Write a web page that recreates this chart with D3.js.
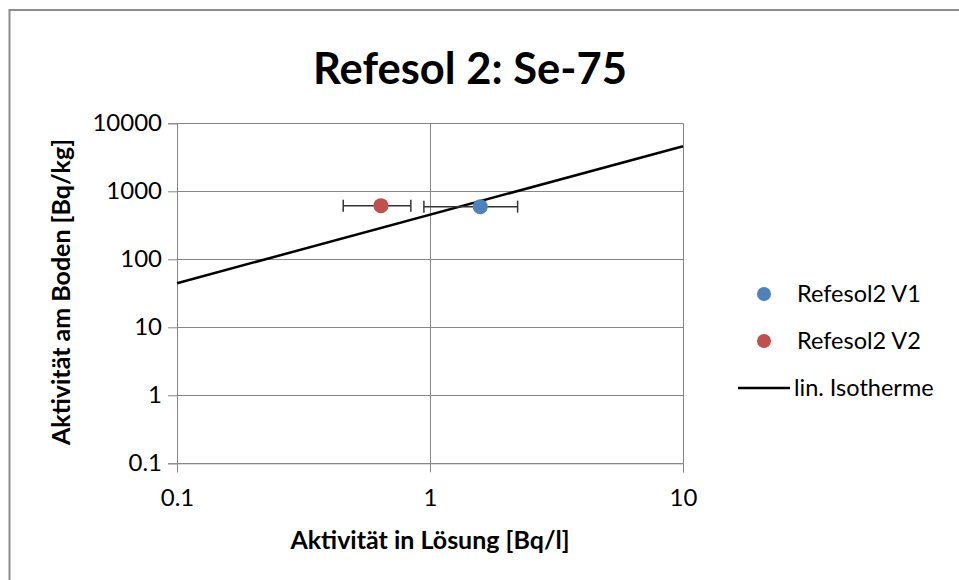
<!DOCTYPE html>
<html>
<head>
<meta charset="utf-8">
<script src="https://cdn.jsdelivr.net/npm/d3@7/dist/d3.min.js"></script>
<style>
  html, body { margin: 0; padding: 0; background: #fff; }
  svg { display: block; }
  text { font-family: Lato, "Open Sans", sans-serif; fill: #000; }
</style>
</head>
<body>
<svg id="chart" width="959" height="580"></svg>
<script>
// ---- data ----
const seriesNames = ["Refesol2 V1", "Refesol2 V2", "lin. Isotherme"];
const seriesColors = ["#4F81BD", "#C0504D", "#000000"];
// points: x (Bq/l), y (Bq/kg), x error low/high
const v1 = { x: 1.58, y: 595, xLow: 0.946, xHigh: 2.22 };
const v2 = { x: 0.64, y: 615, xLow: 0.454, xHigh: 0.84 };
const isothermeX = [0.1, 10];
const isothermeY = [44.5, 4600];
const xTicks = [0.1, 1, 10];
const yTicks = [0.1, 1, 10, 100, 1000, 10000];
const titleText = "Refesol 2: Se-75";
const xTitle = "Aktivität in Lösung [Bq/l]";
const yTitle = "Aktivität am Boden [Bq/kg]";

// ---- layout ----
const svg = d3.select("#chart");
const plot = { left: 177, right: 683, top: 123.3, bottom: 463.3 };
const x = d3.scaleLog().domain([0.1, 10]).range([plot.left, plot.right]);
const y = d3.scaleLog().domain([0.1, 10000]).range([plot.bottom, plot.top]);
const gridColor = "#868686";
const fmt = d => (d < 1 ? d3.format(".1f")(d) : d3.format("d")(d));

// outer chart border
svg.append("rect")
  .attr("x", 9.5).attr("y", 10).attr("width", 980).attr("height", 600)
  .attr("fill", "none").attr("stroke", "#8c8c8c").attr("stroke-width", 2);

// gridlines
const g = svg.append("g");
g.selectAll(".hgrid").data(yTicks).join("line")
  .attr("x1", plot.left).attr("x2", plot.right)
  .attr("y1", d => Math.round(y(d)) + 0.5).attr("y2", d => Math.round(y(d)) + 0.5)
  .attr("stroke", gridColor).attr("stroke-width", 1);
g.selectAll(".vgrid").data(xTicks).join("line")
  .attr("y1", plot.top).attr("y2", plot.bottom)
  .attr("x1", d => Math.round(x(d)) + 0.5).attr("x2", d => Math.round(x(d)) + 0.5)
  .attr("stroke", gridColor).attr("stroke-width", 1);

// axes
const xAxis = d3.axisBottom(x).tickValues(xTicks).tickFormat(fmt).tickSize(9).tickPadding(17);
const yAxis = d3.axisLeft(y).tickValues(yTicks).tickFormat(fmt).tickSize(9).tickPadding(6);
const gx = svg.append("g").attr("transform", `translate(0,${plot.bottom})`).call(xAxis);
const gy = svg.append("g").attr("transform", `translate(${plot.left},0)`).call(yAxis);
[gx, gy].forEach(a => {
  a.select(".domain").attr("stroke", gridColor);
  a.selectAll(".tick line").attr("stroke", gridColor);
  a.selectAll(".tick text").style("font-family", "Lato, sans-serif").style("font-size", "24px").attr("fill", "#1a1a1a");
});

// isotherm line
const line = d3.line().x(d => x(d[0])).y(d => y(d[1]));
svg.append("path")
  .datum(isothermeX.map((v, i) => [v, isothermeY[i]]))
  .attr("d", line).attr("fill", "none").attr("stroke", "#000").attr("stroke-width", 2.5);

// error bars and points
const pts = [v1, v2];
const eb = svg.append("g").attr("stroke", "#333").attr("stroke-width", 1.5);
pts.forEach(p => {
  eb.append("line").attr("x1", x(p.xLow)).attr("x2", x(p.xHigh)).attr("y1", y(p.y)).attr("y2", y(p.y));
  [p.xLow, p.xHigh].forEach(e => {
    eb.append("line").attr("x1", x(e)).attr("x2", x(e)).attr("y1", y(p.y) - 6).attr("y2", y(p.y) + 6);
  });
});
svg.selectAll(".pt").data(pts).join("circle")
  .attr("cx", d => x(d.x)).attr("cy", d => y(d.y)).attr("r", 7.5)
  .attr("fill", (d, i) => seriesColors[i]);

// title
svg.append("text").attr("x", 470).attr("y", 84).attr("text-anchor", "middle")
  .style("font-size", "43.5px").style("font-weight", "bold").text(titleText);

// axis titles
svg.append("text").attr("x", 430).attr("y", 549).attr("text-anchor", "middle")
  .style("font-size", "25px").style("font-weight", "bold").text(xTitle);
svg.append("text").attr("transform", "translate(70,292) rotate(-90)").attr("text-anchor", "middle")
  .style("font-size", "25px").style("font-weight", "bold").text(yTitle);

// legend
const leg = svg.append("g");
const legY = [294, 341, 388];
seriesNames.forEach((n, i) => {
  if (i < 2) {
    leg.append("circle").attr("cx", 764).attr("cy", legY[i]).attr("r", 7).attr("fill", seriesColors[i]);
  } else {
    leg.append("line").attr("x1", 738).attr("x2", 790).attr("y1", legY[i]).attr("y2", legY[i])
      .attr("stroke", seriesColors[i]).attr("stroke-width", 2.5);
  }
  leg.append("text").attr("x", i < 2 ? 797 : 794).attr("y", legY[i] + 8)
    .style("font-size", "23.5px").attr("fill", "#1a1a1a").text(n);
});
</script>
</body>
</html>
